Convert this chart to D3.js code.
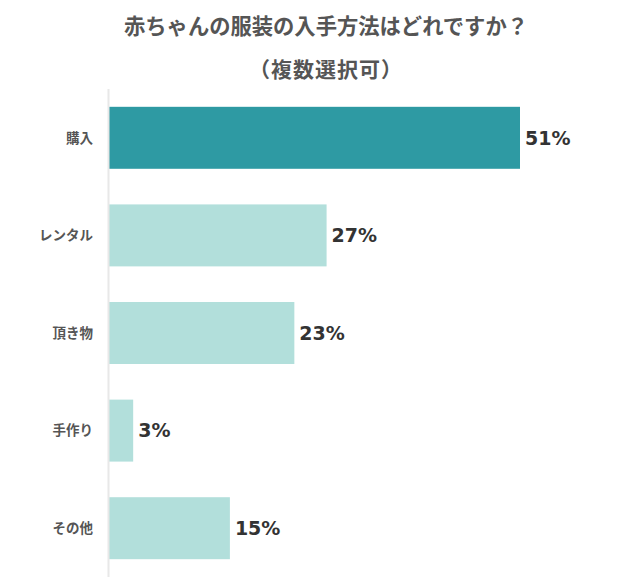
<!DOCTYPE html>
<html>
<head>
<meta charset="utf-8">
<script src="https://cdn.jsdelivr.net/npm/d3@7"></script>
<style>
  body { margin: 0; background: #fff; }
  text { font-family: "Noto Sans CJK JP", "Noto Sans", sans-serif; }
</style>
</head>
<body>
<div id="chart"></div>
<script>
// data
const categories = ["購入", "レンタル", "頂き物", "手作り", "その他"];
const values = [51, 27, 23, 3, 15];
const highlight = "購入";

const width = 640;
const height = 580;
const margin = { top: 89, right: 40, bottom: 3, left: 109 };

const svg = d3.select("#chart")
  .append("svg")
  .attr("width", width)
  .attr("height", height);

// titles
svg.append("text")
  .attr("x", 326).attr("y", 34)
  .attr("text-anchor", "middle")
  .attr("font-size", 21.3).attr("font-weight", "bold")
  .attr("fill", "#555")
  .text("赤ちゃんの服装の入手方法はどれですか？");

svg.append("text")
  .attr("x", 326).attr("y", 77)
  .attr("text-anchor", "middle")
  .attr("font-size", 21).attr("font-weight", "bold")
  .attr("fill", "#555")
  .attr("letter-spacing", 1)
  .text("（複数選択可）");

const x = d3.scaleLinear()
  .domain([0, 51])
  .range([margin.left, 520]);

const y = d3.scaleBand()
  .domain(categories)
  .range([margin.top, height - margin.bottom])
  .paddingInner(0.365)
  .paddingOuter(0.1825);

// bars
svg.selectAll("rect.bar")
  .data(categories)
  .join("rect")
  .attr("class", "bar")
  .attr("x", x(0))
  .attr("y", d => y(d))
  .attr("width", (d, i) => x(values[i]) - x(0))
  .attr("height", y.bandwidth())
  .attr("fill", d => d === highlight ? "#2E9AA3" : "#B2DFDB");

// axis line
svg.append("line")
  .attr("x1", margin.left - 0.5).attr("x2", margin.left - 0.5)
  .attr("y1", margin.top).attr("y2", height - margin.bottom)
  .attr("stroke", "#e8e8e8")
  .attr("stroke-width", 2);

// category labels
svg.selectAll("text.cat")
  .data(categories)
  .join("text")
  .attr("class", "cat")
  .attr("x", 93)
  .attr("y", d => y(d) + y.bandwidth() / 2)
  .attr("dy", "0.35em")
  .attr("text-anchor", "end")
  .attr("font-size", 13.5).attr("font-weight", "bold")
  .attr("fill", "#555")
  .text(d => d);

// value labels
svg.selectAll("text.val")
  .data(categories)
  .join("text")
  .attr("class", "val")
  .attr("x", (d, i) => x(values[i]) + 5)
  .attr("y", d => y(d) + y.bandwidth() / 2)
  .attr("dy", "0.36em")
  .style("font-family", "'DejaVu Sans', sans-serif")
  .attr("font-size", 19).attr("font-weight", "bold")
  .attr("fill", "#333")
  .text((d, i) => values[i] + "%");
</script>
</body>
</html>
